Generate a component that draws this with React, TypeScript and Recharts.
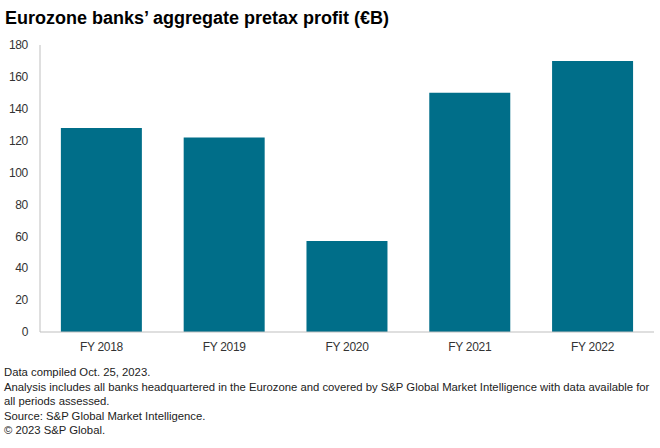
import { BarChart, Bar, XAxis, YAxis } from "recharts";

const categories = ["FY 2018", "FY 2019", "FY 2020", "FY 2021", "FY 2022"];
const profit = [128, 122, 57, 150, 170];
const yTicks = [0, 20, 40, 60, 80, 100, 120, 140, 160, 180];
const notes = [
  "Data compiled Oct. 25, 2023.",
  "Analysis includes all banks headquartered in the Eurozone and covered by S&P Global Market Intelligence with data available for",
  "all periods assessed.",
  "Source: S&P Global Market Intelligence.",
  "© 2023 S&P Global.",
];

const data = categories.map((name, i) => ({ name, value: profit[i] }));

const BAR_COLOR = "#006e89";
const AXIS_COLOR = "#bfbfbf";
const FONT = "'Liberation Sans', Arial, sans-serif";

export default function App() {
  return (
    <div
      style={{
        position: "absolute",
        left: 0,
        top: 0,
        width: 660,
        height: 448,
        background: "#fff",
        fontFamily: FONT,
        overflow: "hidden",
      }}
    >
      <div
        style={{
          position: "absolute",
          left: 5,
          top: 8,
          fontSize: 18,
          fontWeight: "bold",
          color: "#000",
          whiteSpace: "nowrap",
        }}
      >
        Eurozone banks’ aggregate pretax profit (€B)
      </div>
      <div style={{ position: "absolute", left: 0, top: 0 }}>
        <BarChart
          width={660}
          height={360}
          data={data}
          margin={{ top: 45, right: 6, left: 0, bottom: 0 }}
          barCategoryGap="17%"
        >
          <XAxis
            dataKey="name"
            stroke={AXIS_COLOR}
            tickLine={false}
            tickSize={0}
            tickMargin={10}
            height={28}
            tick={{ fill: "#333", fontSize: 12, fontFamily: FONT, letterSpacing: -0.3 }}
          />
          <YAxis
            domain={[0, 180]}
            ticks={yTicks}
            interval={0}
            width={40}
            stroke={AXIS_COLOR}
            tickLine={false}
            tickSize={0}
            tickMargin={12}
            tick={{ fill: "#333", fontSize: 12, fontFamily: FONT, letterSpacing: -0.3 }}
          />
          <Bar dataKey="value" fill={BAR_COLOR} isAnimationActive={false} />
        </BarChart>
      </div>
      <div
        style={{
          position: "absolute",
          left: 4,
          top: 365,
          fontSize: 11.3,
          lineHeight: "14.6px",
          color: "#222",
          whiteSpace: "nowrap",
        }}
      >
        {notes.map((n) => (
          <div key={n}>{n}</div>
        ))}
      </div>
    </div>
  );
}
